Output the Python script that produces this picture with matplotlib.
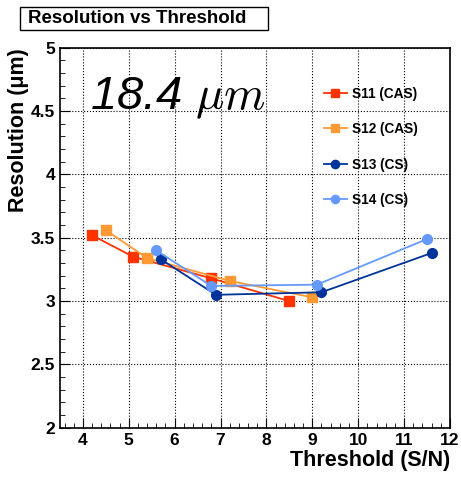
import matplotlib
matplotlib.use("Agg")
import matplotlib.pyplot as plt
from matplotlib.patches import Rectangle
from matplotlib.ticker import MultipleLocator, FormatStrFormatter

plt.rcParams['font.family'] = ['Liberation Sans', 'DejaVu Sans']

# threshold (S/N) and resolution (um) per sensor
s11_x = [4.2, 5.1, 6.8, 8.5]
s11_y = [3.52, 3.35, 3.18, 3.00]
s12_x = [4.5, 5.4, 7.2, 9.0]
s12_y = [3.56, 3.34, 3.16, 3.03]
s13_x = [5.7, 6.9, 9.2, 11.6]
s13_y = [3.33, 3.05, 3.07, 3.38]
s14_x = [5.6, 6.8, 9.1, 11.5]
s14_y = [3.40, 3.12, 3.13, 3.49]

labels = ['S11 (CAS)', 'S12 (CAS)', 'S13 (CS)', 'S14 (CS)']
colors = ['#ff3300', '#ff9933', '#003399', '#6699ff']

fig = plt.figure(figsize=(4.61, 4.78), dpi=100)
ax = fig.add_axes([0.130, 0.105, 0.846, 0.795])

ax.plot(s11_x, s11_y, '-s', color=colors[0], ms=7, lw=1.3, label=labels[0])
ax.plot(s12_x, s12_y, '-s', color=colors[1], ms=7, lw=1.3, label=labels[1])
ax.plot(s13_x, s13_y, '-o', color=colors[2], ms=7, lw=1.3, label=labels[2])
ax.plot(s14_x, s14_y, '-o', color=colors[3], ms=7, lw=1.3, label=labels[3])

ax.set_xlim(3.5, 12)
ax.set_ylim(2, 5)
ax.xaxis.set_major_locator(MultipleLocator(1))
ax.xaxis.set_minor_locator(MultipleLocator(0.2))
ax.yaxis.set_major_locator(MultipleLocator(0.5))
ax.yaxis.set_minor_locator(MultipleLocator(0.1))
ax.yaxis.set_major_formatter(FormatStrFormatter('%g'))
ax.tick_params(which='both', direction='in', labelsize=12.5)
ax.tick_params(which='major', length=7)
ax.tick_params(which='minor', length=3.5)
for lab in ax.get_xticklabels() + ax.get_yticklabels():
    lab.set_fontweight('bold')
ax.grid(True, which='major', color='black', linestyle=':', lw=0.8)
for sp in ax.spines.values():
    sp.set_linewidth(1.2)

ax.set_xlabel('Threshold (S/N)', fontsize=15.5, fontweight='bold', loc='right', labelpad=2)
ax.set_ylabel('Resolution (\u03bcm)', fontsize=15.5, fontweight='bold', loc='top', labelpad=1)

ax.text(4.16, 4.6, '18.4 $\\mu m$', fontsize=34, va='center', ha='left',
        fontstyle='italic', math_fontfamily='cm')

leg = ax.legend(loc='upper left', bbox_to_anchor=(0.645, 0.93), frameon=False,
                labelspacing=1.58, handlelength=1.7, handletextpad=0.4,
                markerscale=0.85, prop={'weight': 'bold', 'size': 9.8})

fig.patches.append(Rectangle((20 / 461, 1 - 30 / 478), 248 / 461, 23 / 478,
                             transform=fig.transFigure, fc='white', ec='black',
                             lw=1))
fig.text(28 / 461, 1 - 18.5 / 478, 'Resolution vs Threshold', fontsize=13.5,
         fontweight='bold', va='center', ha='left')

fig.savefig('out.png', dpi=100)
